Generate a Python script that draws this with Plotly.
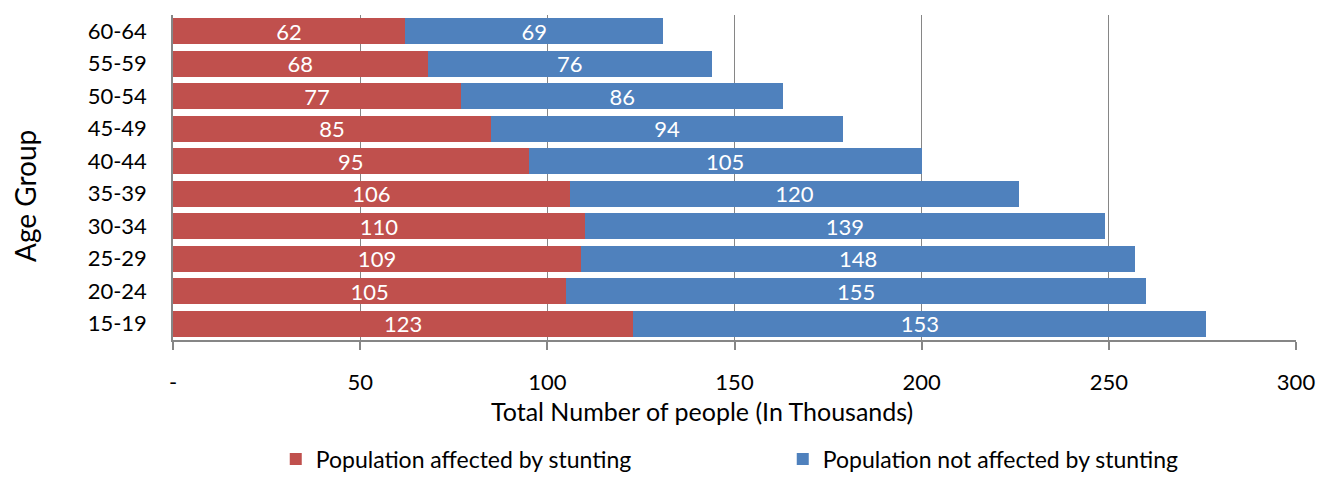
import plotly.graph_objects as go

age_groups = ["15-19", "20-24", "25-29", "30-34", "35-39", "40-44", "45-49", "50-54", "55-59", "60-64"]
affected = [123, 105, 109, 110, 106, 95, 85, 77, 68, 62]
not_affected = [153, 155, 148, 139, 120, 105, 94, 86, 76, 69]
x_tickvals = [0, 50, 100, 150, 200, 250, 300]
x_ticktext = ["-", "50", "100", "150", "200", "250", "300"]

FONT = "Lato, 'Open Sans', sans-serif"
RED = "#C0504D"
BLUE = "#4F81BD"
GRID = "#868686"
FS = 22

fig = go.Figure()
fig.add_trace(go.Bar(
    y=age_groups, x=affected, orientation="h", name="Population affected by stunting",
    marker=dict(color=RED, line=dict(width=0)),
    text=[str(v) for v in affected], textposition="inside", insidetextanchor="middle",
    textfont=dict(color="white", size=FS, family=FONT), textangle=0,
))
fig.add_trace(go.Bar(
    y=age_groups, x=not_affected, orientation="h", name="Population not affected by stunting",
    marker=dict(color=BLUE, line=dict(width=0)),
    text=[str(v) for v in not_affected], textposition="inside", insidetextanchor="middle",
    textfont=dict(color="white", size=FS, family=FONT), textangle=0,
))

fig.update_layout(
    barmode="stack",
    bargap=0.2,
    width=1319, height=477,
    margin=dict(l=173, r=23, t=15, b=137, autoexpand=False),
    plot_bgcolor="white", paper_bgcolor="white",
    font=dict(family=FONT, size=FS, color="black"),
    uniformtext=dict(mode="show", minsize=FS),
    legend=dict(
        orientation="h", x=0.0915, xanchor="left", y=-0.30, yanchor="top",
        font=dict(size=23), entrywidth=462, entrywidthmode="pixels",
        traceorder="normal", itemwidth=30,
    ),
    xaxis=dict(
        range=[0, 300], tickvals=x_tickvals, ticktext=x_ticktext,
        showgrid=True, gridcolor=GRID, gridwidth=1,
        showline=True, linecolor=GRID, linewidth=1.5,
        ticks="outside", ticklen=8, tickcolor=GRID, tickwidth=1.5,
        ticklabelstandoff=14, automargin=False,
        zeroline=False,
        tickfont=dict(size=FS),
    ),
    yaxis=dict(
        categoryorder="array", categoryarray=age_groups,
        showline=True, linecolor=GRID, linewidth=1.5,
        ticks="", ticklabelstandoff=20, automargin=False,
        showgrid=False,
        tickfont=dict(size=FS),
    ),
    annotations=[
        dict(text="Total Number of people (In Thousands)", xref="paper", yref="paper",
             x=0.471, y=-0.218, xanchor="center", yanchor="middle", showarrow=False,
             font=dict(size=25, family=FONT, color="black")),
        dict(text="Age Group", xref="paper", yref="paper", textangle=-90,
             x=-0.1318, y=0.443, xanchor="center", yanchor="middle", showarrow=False,
             font=dict(size=28, family=FONT, color="black")),
    ],
)

fig.write_html("out.html", config={"displayModeBar": False},
               post_script="document.body.style.margin='0';document.body.style.overflow='hidden';")
